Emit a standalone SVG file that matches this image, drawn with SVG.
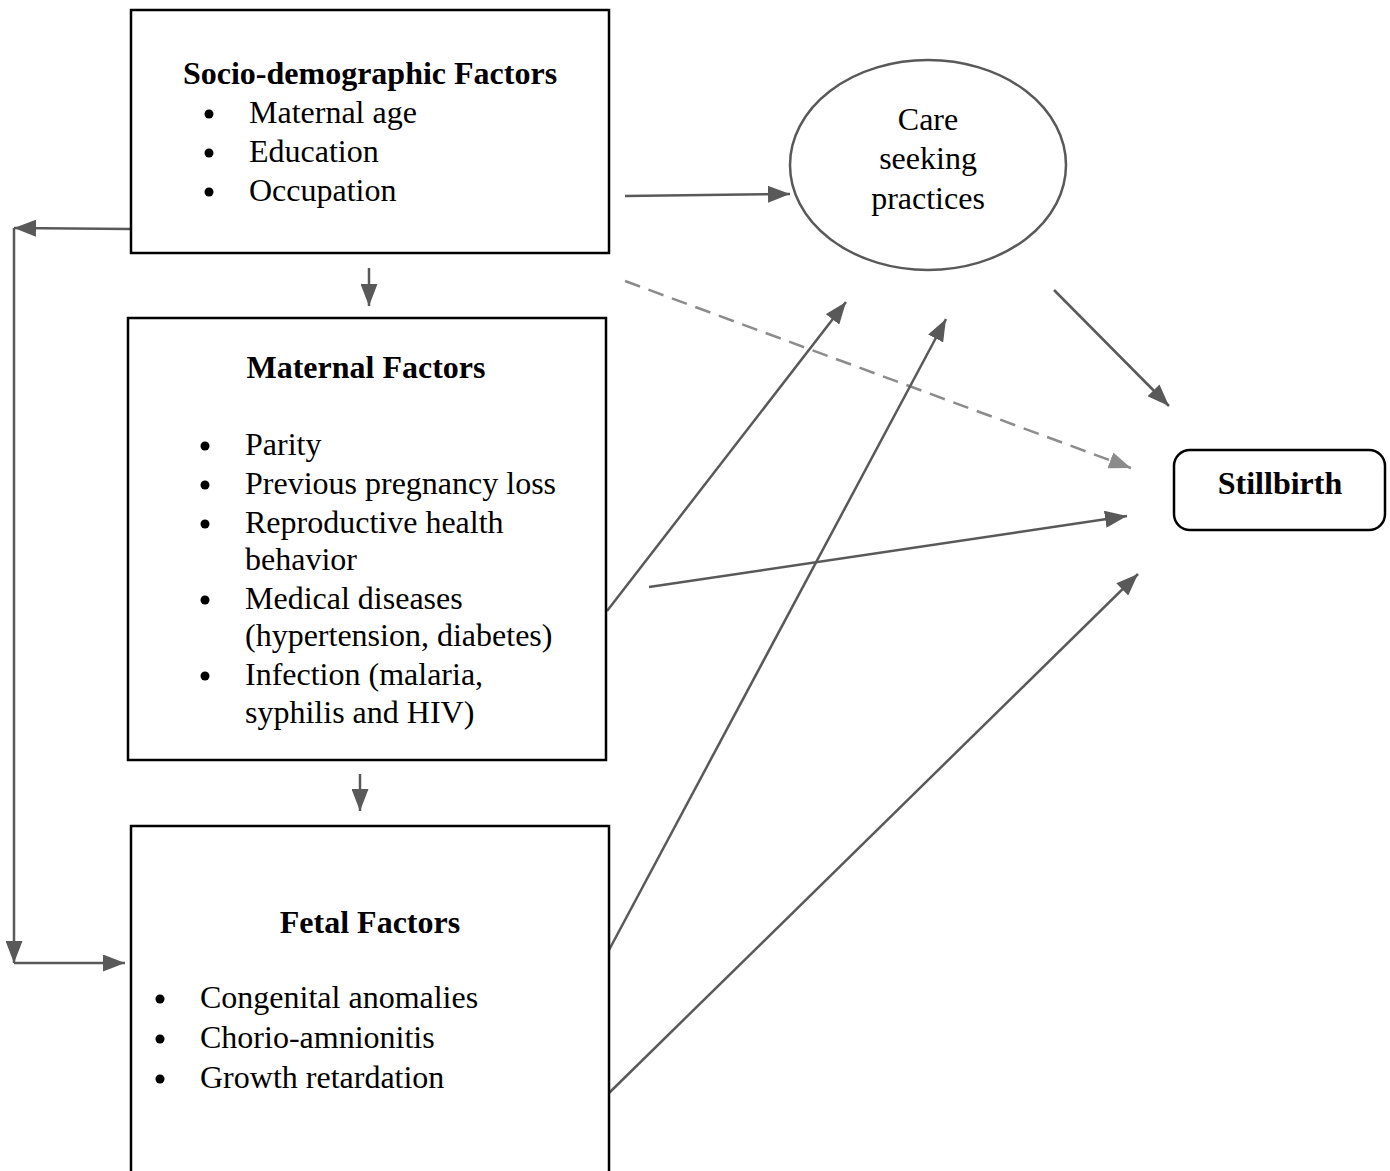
<svg xmlns="http://www.w3.org/2000/svg" width="1390" height="1171" viewBox="0 0 1390 1171">
<style>
.box{fill:#fff;stroke:#000;stroke-width:2.5}
.t{font-family:"Liberation Serif","Times New Roman",serif;font-size:32px;fill:#000}
.b{font-weight:bold}
.c{text-anchor:middle}
.ln{stroke:#595959;stroke-width:2.5;fill:none}
.dash{stroke:#8c8c8c;stroke-width:2.5;fill:none;stroke-dasharray:16,9}
</style>
<defs>
<marker id="a" viewBox="0 0 22 17" refX="22" refY="8.5" markerWidth="22" markerHeight="17" markerUnits="userSpaceOnUse" orient="auto">
<path d="M0,0 L22,8.5 L0,17 Z" fill="#595959"/>
</marker>
<marker id="ad" viewBox="0 0 22 17" refX="22" refY="8.5" markerWidth="22" markerHeight="17" markerUnits="userSpaceOnUse" orient="auto">
<path d="M0,0 L22,8.5 L0,17 Z" fill="#8c8c8c"/>
</marker>
</defs>
<rect width="1390" height="1171" fill="#fff"/>
<g id="connectors">
<line class="ln" x1="130" y1="229" x2="14" y2="228" marker-end="url(#a)"/>
<line class="ln" x1="14" y1="228" x2="14" y2="963" marker-end="url(#a)"/>
<line class="ln" x1="14" y1="963" x2="125" y2="963" marker-end="url(#a)"/>
<line class="ln" x1="625" y1="196" x2="790" y2="194" marker-end="url(#a)"/>
<line class="ln" x1="369" y1="268" x2="369" y2="306" marker-end="url(#a)"/>
<line class="ln" x1="360" y1="774" x2="360" y2="811" marker-end="url(#a)"/>
<line class="dash" x1="625" y1="281" x2="1131" y2="468" marker-end="url(#ad)"/>
<line class="ln" x1="1054" y1="290" x2="1169" y2="406" marker-end="url(#a)"/>
<line class="ln" x1="607" y1="611" x2="846" y2="302" marker-end="url(#a)"/>
<line class="ln" x1="649" y1="587" x2="1127" y2="516" marker-end="url(#a)"/>
<line class="ln" x1="609" y1="950" x2="946" y2="319" marker-end="url(#a)"/>
<line class="ln" x1="609" y1="1093" x2="1138" y2="574" marker-end="url(#a)"/>
</g>
<g id="socio">
<rect class="box" x="131" y="10" width="478" height="243"/>
<text class="t b c" x="370" y="84">Socio-demographic Factors</text>
<circle cx="209" cy="114" r="4.5"/><text class="t" x="249" y="123">Maternal age</text>
<circle cx="209" cy="153" r="4.5"/><text class="t" x="249" y="162">Education</text>
<circle cx="209" cy="192" r="4.5"/><text class="t" x="249" y="201">Occupation</text>
</g>
<g id="care">
<ellipse cx="928" cy="165" rx="138" ry="105" fill="#fff" stroke="#595959" stroke-width="2.5"/>
<text class="t c" x="928" y="130">Care</text>
<text class="t c" x="928" y="169">seeking</text>
<text class="t c" x="928" y="209">practices</text>
</g>
<g id="maternal">
<rect class="box" x="128" y="318" width="478" height="442"/>
<text class="t b c" x="366" y="378">Maternal Factors</text>
<circle cx="205" cy="446" r="4.5"/><text class="t" x="245" y="455">Parity</text>
<circle cx="205" cy="485" r="4.5"/><text class="t" x="245" y="494">Previous pregnancy loss</text>
<circle cx="205" cy="524" r="4.5"/><text class="t" x="245" y="533">Reproductive health</text>
<text class="t" x="245" y="570">behavior</text>
<circle cx="205" cy="600" r="4.5"/><text class="t" x="245" y="609">Medical diseases</text>
<text class="t" x="245" y="646">(hypertension, diabetes)</text>
<circle cx="205" cy="676" r="4.5"/><text class="t" x="245" y="685">Infection (malaria,</text>
<text class="t" x="245" y="723">syphilis and HIV)</text>
</g>
<g id="fetal">
<rect class="box" x="131" y="826" width="478" height="360"/>
<text class="t b c" x="370" y="933">Fetal Factors</text>
<circle cx="160" cy="999" r="4.5"/><text class="t" x="200" y="1008">Congenital anomalies</text>
<circle cx="160" cy="1039" r="4.5"/><text class="t" x="200" y="1048">Chorio-amnionitis</text>
<circle cx="160" cy="1079" r="4.5"/><text class="t" x="200" y="1088">Growth retardation</text>
</g>
<g id="stillbirth">
<rect class="box" x="1174" y="450" width="211" height="80" rx="16"/>
<text class="t b c" x="1280" y="494">Stillbirth</text>
</g>
</svg>
